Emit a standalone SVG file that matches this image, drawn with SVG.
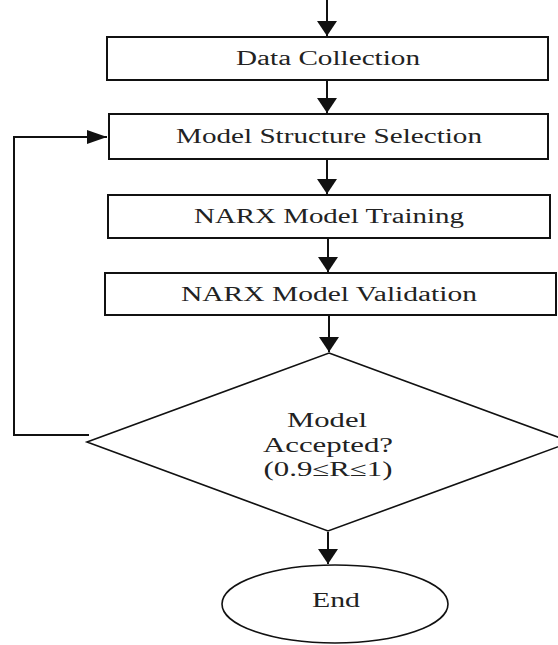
<svg xmlns="http://www.w3.org/2000/svg" width="558" height="645" viewBox="0 0 558 645">
<style>
.box{fill:#fff;stroke:#111;stroke-width:2}
.dia{fill:#fff;stroke:#111;stroke-width:1.6}
.conn{fill:none;stroke:#111;stroke-width:2}
text{font-family:"Liberation Serif","Times New Roman",serif;font-size:20px;fill:#222;text-anchor:middle}
</style>
<defs>
<marker id="arr" markerUnits="userSpaceOnUse" markerWidth="16" markerHeight="22" refX="15" refY="11" orient="auto">
<path d="M0,1 L15,11 L0,21 z" fill="#111"/>
</marker>
<marker id="arrL" markerUnits="userSpaceOnUse" markerWidth="21" markerHeight="16" refX="20" refY="8" orient="auto">
<path d="M0,1 L20,8 L0,15 z" fill="#111"/>
</marker>
</defs>
<rect width="558" height="645" fill="#fff"/>
<g id="connectors">
<path class="conn" d="M327,0 V36" marker-end="url(#arr)"/>
<path class="conn" d="M327,80 V113" marker-end="url(#arr)"/>
<path class="conn" d="M327,159 V194" marker-end="url(#arr)"/>
<path class="conn" d="M328,238 V272" marker-end="url(#arr)"/>
<path class="conn" d="M329,315 V352" marker-end="url(#arr)"/>
<path class="conn" d="M328,532 V564" marker-end="url(#arr)"/>
<path class="conn" d="M89,435 H14 V137 H107" marker-end="url(#arrL)"/>
</g>
<g id="data-collection">
<rect class="box" x="107" y="37" width="441" height="43"/>
<text x="328" y="65" textLength="184" lengthAdjust="spacingAndGlyphs">Data Collection</text>
</g>
<g id="model-structure-selection">
<rect class="box" x="109" y="114" width="439" height="45"/>
<text x="329" y="143" textLength="306" lengthAdjust="spacingAndGlyphs">Model Structure Selection</text>
</g>
<g id="narx-training">
<rect class="box" x="108" y="195" width="442" height="43"/>
<text x="329" y="223" textLength="270" lengthAdjust="spacingAndGlyphs">NARX Model Training</text>
</g>
<g id="narx-validation">
<rect class="box" x="105" y="273" width="451" height="42"/>
<text x="329" y="301" textLength="296" lengthAdjust="spacingAndGlyphs">NARX Model Validation</text>
</g>
<g id="decision">
<polygon class="dia" points="329,353 571,442 328,531 87,442"/>
<text x="327" y="427" font-size="19" textLength="80" lengthAdjust="spacingAndGlyphs">Model</text>
<text x="328" y="452" font-size="19" textLength="130" lengthAdjust="spacingAndGlyphs">Accepted?</text>
<text x="328" y="476" font-size="19" textLength="129" lengthAdjust="spacingAndGlyphs">(0.9≤R≤1)</text>
</g>
<g id="end">
<ellipse class="dia" cx="335" cy="604" rx="113" ry="39"/>
<text x="336" y="607" textLength="48" lengthAdjust="spacingAndGlyphs">End</text>
</g>
</svg>
